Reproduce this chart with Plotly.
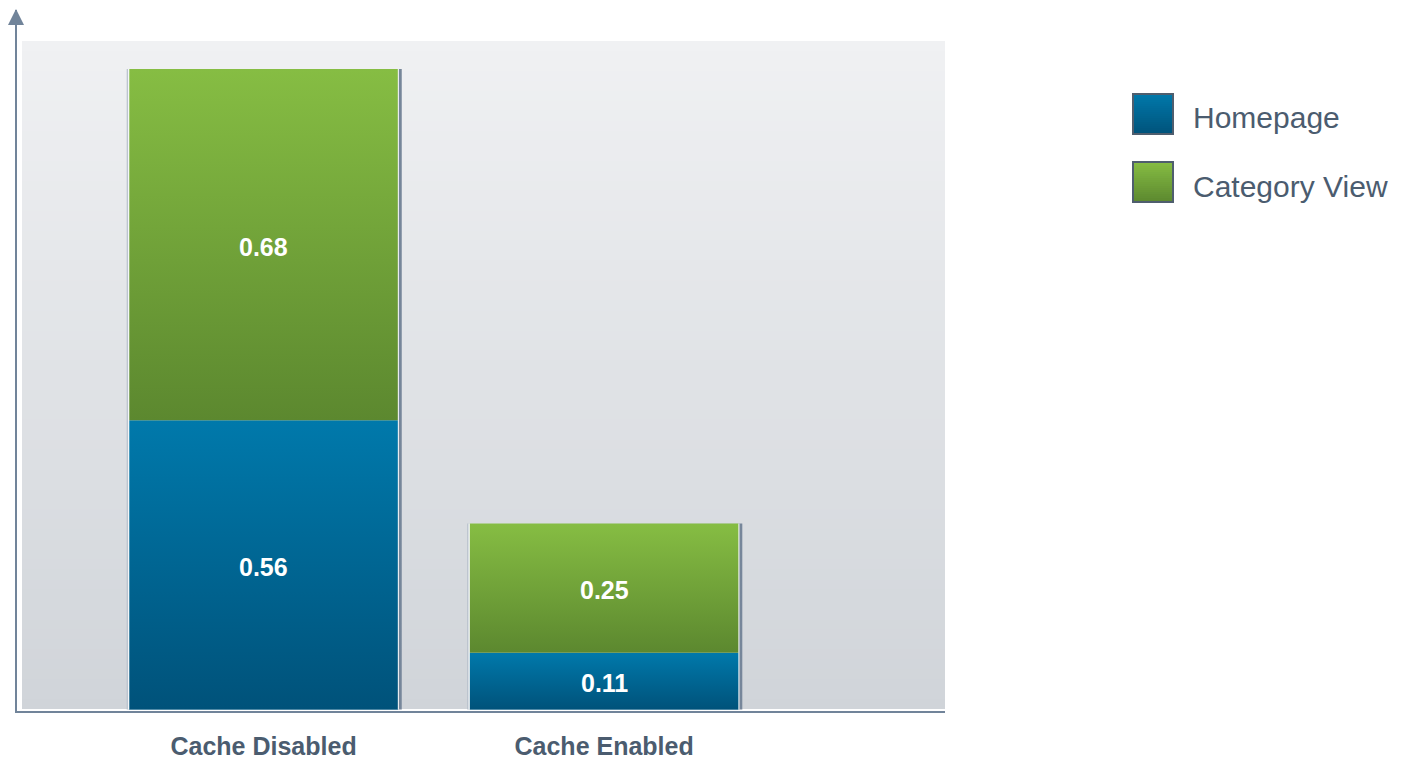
import plotly.graph_objects as go

# ---------------- data ----------------
categories = ["Cache Disabled", "Cache Enabled"]
series_names = ["Homepage", "Category View"]
homepage = [0.56, 0.11]
category_view = [0.68, 0.25]

# ---------------- style ----------------
W, H = 1405, 761
L, R, T, B = 17, 460, 10, 50
PW, PH = W - L - R, H - T - B

AXIS = "#71849a"
TEXT = "#4b5c6f"
BLUE = ("#00527a", "#0079ab")    # bottom, top
GREEN = ("#5c882f", "#86bd43")
BG_TOP = (240, 241, 243)
BG_BOT = (208, 212, 217)
FONT = "Liberation Sans, Arial, Helvetica, sans-serif"

FILL_W = 0.7885
WHITE_W = 0.7959
GRAY_W = 0.8076


def px(x):
    return (x - L) / PW


def py(y):
    return (H - B - y) / PH


def lerp(c1, c2, t):
    return "rgb(%d,%d,%d)" % tuple(round(a + (b - a) * t) for a, b in zip(c1, c2))


def hex2rgb(h):
    h = h.lstrip("#")
    return tuple(int(h[i:i + 2], 16) for i in (0, 2, 4))


xs = list(range(len(categories)))
series = [homepage, category_view]
colors = [BLUE, GREEN]

fig = go.Figure()

# data bars (stacked)
for name, vals, col in zip(series_names, series, colors):
    fig.add_trace(go.Bar(
        x=xs, y=vals, name=name, width=FILL_W,
        marker=dict(color=col[1], line=dict(width=0)),
        showlegend=False, hoverinfo="skip",
    ))

totals = [a + b for a, b in zip(homepage, category_view)]


def rect(xc, w, y0, y1):
    return [xc - w / 2, xc + w / 2, xc + w / 2, xc - w / 2, xc - w / 2], [y0, y0, y1, y1, y0]


# bar side edges (gray shadow + white highlight)
for i, tot in zip(xs, totals):
    rx, ry = rect(i + 0.002, GRAY_W, 0, tot)
    fig.add_trace(go.Scatter(
        x=rx, y=ry, mode="lines", fill="toself", line=dict(width=0),
        fillgradient=dict(type="horizontal", colorscale=[[0, "#b3bdc9"], [1, "#76869a"]]),
        showlegend=False, hoverinfo="skip"))
    rx, ry = rect(i - 0.0005, WHITE_W, 0, tot)
    fig.add_trace(go.Scatter(
        x=rx, y=ry, mode="lines", fill="toself", line=dict(width=0),
        fillcolor="#f4f6f8", showlegend=False, hoverinfo="skip"))

annotations = []

# gradient-filled segments + value labels
bases = [0.0] * len(xs)
for vals, col in zip(series, colors):
    for i in xs:
        b0 = bases[i]
        b1 = b0 + vals[i]
        rx, ry = rect(i, FILL_W, b0, b1)
        fig.add_trace(go.Scatter(
            x=rx, y=ry, mode="lines", fill="toself", line=dict(width=0),
            fillgradient=dict(type="vertical", colorscale=[[0, col[0]], [1, col[1]]]),
            showlegend=False, hoverinfo="skip"))
        annotations.append(dict(xref="x", yref="y", x=i, y=(b0 + b1) / 2, yshift=-2,
                                text="%.2f" % vals[i], showarrow=False,
                                font=dict(color="white", size=25, family=FONT, weight="bold")))
        bases[i] = b1

shapes = []
# plot background gradient
n = 67
y_top, y_bot = 41, 709
for k in range(n):
    a = y_top + (y_bot - y_top) * k / n
    b = y_top + (y_bot - y_top) * (k + 1) / n
    shapes.append(dict(type="rect", xref="paper", yref="paper", layer="below",
                       x0=px(22), x1=px(945), y0=py(min(b + 1, y_bot)), y1=py(a),
                       fillcolor=lerp(BG_TOP, BG_BOT, (k + 0.5) / n), line=dict(width=0)))

# axis arrow
shapes.append(dict(type="path", xref="paper", yref="paper",
                   path="M %f %f L %f %f L %f %f Z" % (px(16), py(9), px(8), py(25), px(24), py(25)),
                   fillcolor=AXIS, line=dict(width=0)))

# manual legend
leg_y = [94, 162]
for name, col, y0 in zip(series_names, colors, leg_y):
    nb = 20
    c0, c1 = hex2rgb(col[1]), hex2rgb(col[0])
    for k in range(nb):
        a = y0 + 40 * k / nb
        b = y0 + 40 * (k + 1) / nb
        shapes.append(dict(type="rect", xref="paper", yref="paper",
                           x0=px(1133), x1=px(1173), y0=py(min(b + 1.5, y0 + 40)), y1=py(a),
                           fillcolor=lerp(c0, c1, (k + 0.5) / nb), line=dict(width=0)))
    shapes.append(dict(type="rect", xref="paper", yref="paper",
                       x0=px(1133), x1=px(1173), y0=py(y0 + 40), y1=py(y0),
                       line=dict(color="#4f5e6e", width=2)))
    annotations.append(dict(xref="paper", yref="paper", x=px(1191), y=py(y0 + 24),
                            xanchor="left", yanchor="middle", showarrow=False,
                            text=name, font=dict(size=30, color=TEXT, family=FONT)))

fig.update_layout(
    width=W, height=H,
    margin=dict(l=L, r=R, t=T, b=B, autoexpand=False),
    paper_bgcolor="white", plot_bgcolor="rgba(0,0,0,0)",
    barmode="stack", bargap=0,
    shapes=shapes, annotations=annotations,
    showlegend=False,
    xaxis=dict(range=[-0.724, 2.001], tickmode="array", tickvals=xs, ticktext=categories,
               showgrid=False, zeroline=False, showline=True, linecolor=AXIS, linewidth=2,
               ticks="", ticklabelstandoff=12, automargin=False,
               tickfont=dict(size=25, color=TEXT, family=FONT, weight="bold"),
               fixedrange=True),
    yaxis=dict(range=[-0.0029, 1.3543], showticklabels=False, showgrid=False, zeroline=False,
               showline=True, linecolor=AXIS, linewidth=2, ticks="", fixedrange=True,
               automargin=False),
)

fig.write_html("out.html")
